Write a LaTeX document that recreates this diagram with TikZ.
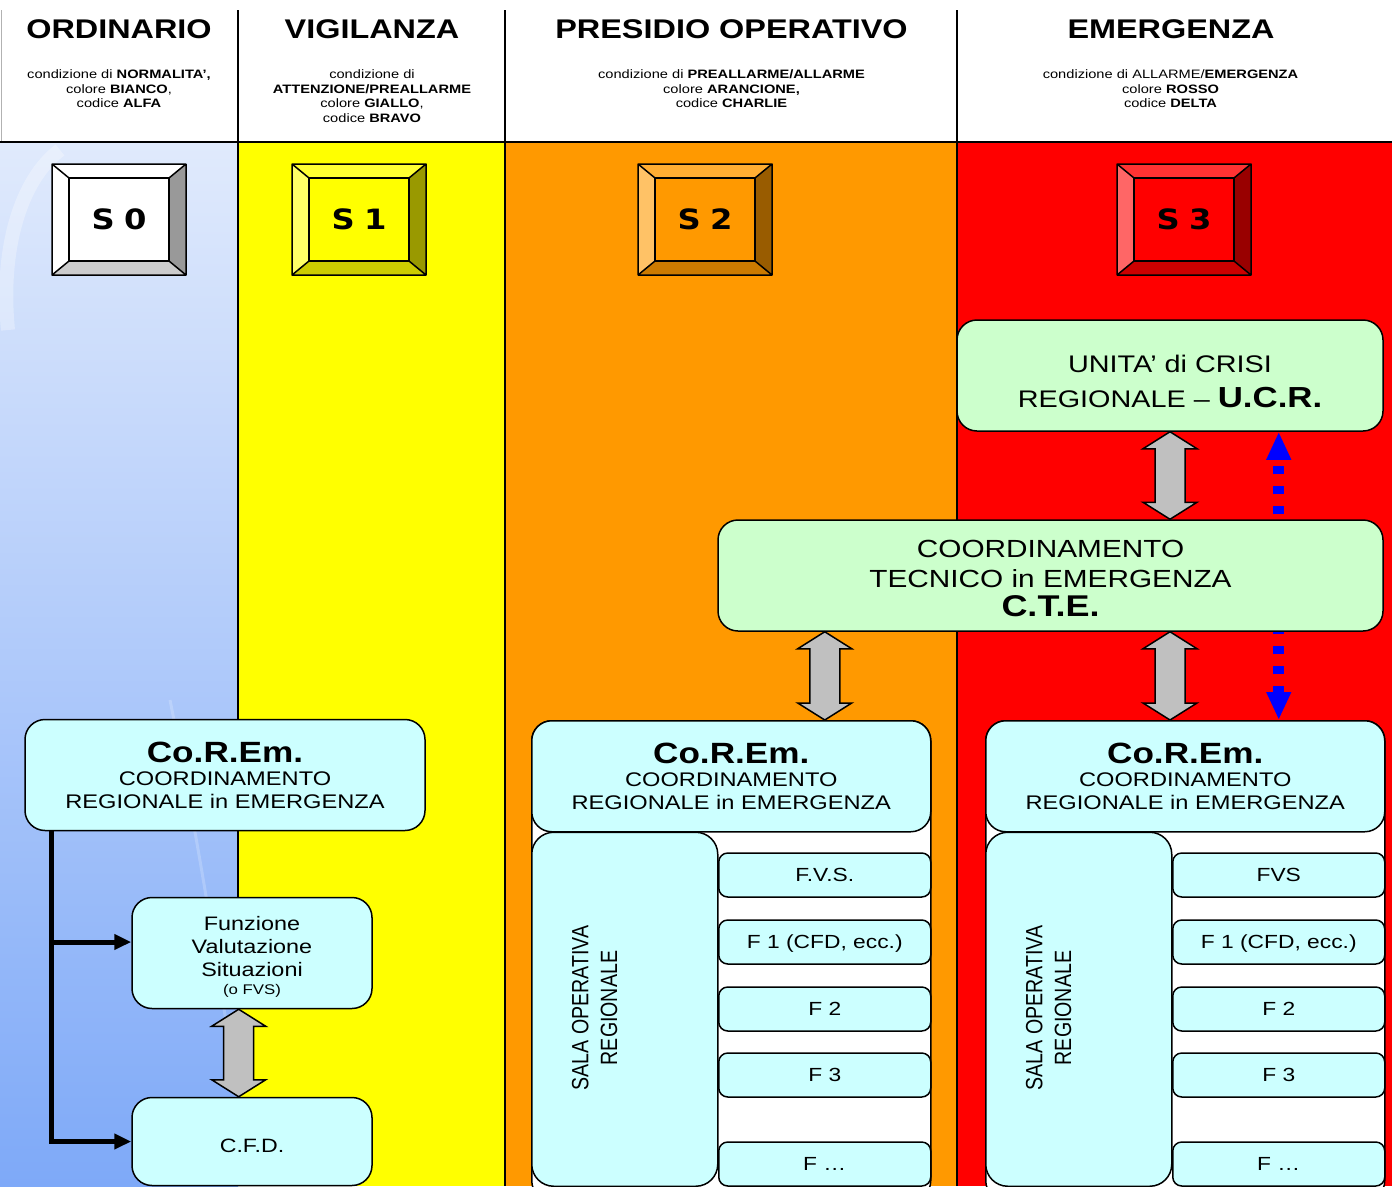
\documentclass[tikz,border=0pt]{standalone}
\usepackage{fontspec}
\usepackage{graphicx}
\setmainfont{Liberation Sans}[FakeStretch=1.2]
\newfontfamily\keyfont{DejaVu Sans}[FakeStretch=1.15]
\newfontfamily\plainsans{Liberation Sans}
\usetikzlibrary{arrows.meta,positioning,calc,backgrounds}
\definecolor{ordtop}{HTML}{E0EAFC}
\definecolor{ordbot}{HTML}{7EA9F8}
\definecolor{vigyellow}{HTML}{FFFF00}
\definecolor{preorange}{HTML}{FF9900}
\definecolor{emered}{HTML}{FF0000}
\definecolor{boxcyan}{HTML}{CCFFFF}
\definecolor{boxgreen}{HTML}{CCFFCC}
\definecolor{arrowgray}{HTML}{C0C0C0}
\definecolor{dashblue}{HTML}{0000FF}
% bevel colours of the level keys
\definecolor{kzright}{HTML}{999999}
\definecolor{kzbot}{HTML}{CCCCCC}
\definecolor{kytop}{HTML}{FFFF33}
\definecolor{kyleft}{HTML}{FFFF66}
\definecolor{kyright}{HTML}{999900}
\definecolor{kybot}{HTML}{CCCC00}
\definecolor{kotop}{HTML}{FFAD33}
\definecolor{koleft}{HTML}{FFC266}
\definecolor{koright}{HTML}{995C00}
\definecolor{kobot}{HTML}{CC7A00}
\definecolor{krtop}{HTML}{FF3333}
\definecolor{krleft}{HTML}{FF6666}
\definecolor{krright}{HTML}{990000}
\definecolor{krbot}{HTML}{CC0000}

\newcommand{\fs}[2]{\fontsize{#1}{#2}\selectfont}
% bevelled level key: name, left x, label, top, left, right, bottom, face
\newcommand{\levelkey}[8]{%
  \begin{scope}[shift={(#2,164)}]
    \fill[#4] (0,0) -- (134,0) -- (117,14) -- (17,14) -- cycle;
    \fill[#5] (0,0) -- (17,14) -- (17,97) -- (0,111) -- cycle;
    \fill[#6] (134,0) -- (134,111) -- (117,97) -- (117,14) -- cycle;
    \fill[#7] (0,111) -- (17,97) -- (117,97) -- (134,111) -- cycle;
    \node[keyface, fill=#8] (#1) at (67,55.5) {#3};
    \draw[keyline] (0,0) rectangle (134,111) (0,0) -- (17,14) (134,0) -- (117,14)
      (0,111) -- (17,97) (134,111) -- (117,97);
  \end{scope}}
% grey two-headed block arrow, #1 upper end, #2 lower end
\newcommand{\fatarrow}[2]{%
  \draw[blockarrow] let \p1=(#1), \p2=(#2) in
    (\x1,\y1) -- (\x1-27pt,\y1-17pt) -- (\x1-15pt,\y1-17pt)
    -- (\x2-15pt,\y2+17pt) -- (\x2-27pt,\y2+17pt) -- (\x2,\y2)
    -- (\x2+27pt,\y2+17pt) -- (\x2+15pt,\y2+17pt)
    -- (\x1+15pt,\y1-17pt) -- (\x1+27pt,\y1-17pt) -- cycle;}
\newcommand{\coremtext}{{\fs{29.3}{29.3}\bfseries Co.R.Em.}\\COORDINAMENTO\\REGIONALE in EMERGENZA}

\begin{document}
\begin{tikzpicture}[x=1pt,y=-1pt,
  title/.style={font=\fs{27}{27}\bfseries},
  subtitle/.style={font=\fs{12.2}{14.5},align=center},
  divider/.style={line width=2.5pt},
  keyline/.style={line width=1.5pt,line join=round},
  keyface/.style={draw,line width=1.5pt,minimum width=100pt,minimum height=83pt,inner sep=0pt,
    text width=100pt,align=center,font=\keyfont\bfseries\fs{28}{28}},
  panel/.style={draw,line width=1.5pt,rounded corners=20pt,inner sep=0pt,align=center},
  cyanbox/.style={panel,fill=boxcyan},
  greenbox/.style={panel,fill=boxgreen},
  corem/.style={cyanbox,minimum width=399pt,minimum height=111pt,font=\fs{19.7}{23}},
  frame/.style={draw,line width=1.5pt,rounded corners=20pt,fill=white,minimum width=399pt,minimum height=480pt},
  salabox/.style={panel,fill=boxcyan,rounded corners=22pt,minimum width=186pt,minimum height=354pt},
  salatext/.style={rotate=90,inner sep=0pt,font=\plainsans\fs{19.6}{24}},
  funbox/.style={draw,line width=1.5pt,rounded corners=9pt,fill=boxcyan,minimum width=212pt,
    minimum height=44pt,inner sep=0pt,text height=13.6pt,text depth=0pt,font=\fs{19}{19}},
  blockarrow/.style={draw=black,line width=1.5pt,fill=arrowgray,line join=miter},
  feed/.style={line width=5pt,-{Triangle[length=17pt,width=15pt]}},
  linkdash/.style={dashblue,line width=11pt,dash pattern=on 8pt off 12pt,
    {Triangle[length=28pt,width=23pt]}-{Triangle[length=28pt,width=23pt]}}]
  \useasboundingbox (0,0) rectangle (1392,1186);
  \clip (0,0) rectangle (1392,1186);

  % columns
  \begin{scope}[on background layer]
    \fill[white] (0,0) rectangle (1392,143);
    \fill[top color=ordtop,bottom color=ordbot] (0,143) rectangle (238,1186);
    \draw[white,opacity=0.3,line width=14pt] (8,330) .. controls (0,250) and (20,180) .. (60,150);
    \draw[white,opacity=0.2,line width=3pt] (170,700) .. controls (200,850) and (215,950) .. (235,1080);
    \fill[vigyellow] (238,143) rectangle (505,1186);
    \fill[preorange] (505,143) rectangle (957,1186);
    \fill[emered] (957,143) rectangle (1392,1186);
    \draw[gray!60,line width=1pt] (1,10) -- (1,142);
    \foreach \x in {238,505,957}
      \draw[divider] (\x,10) -- (\x,1186);
    \draw[divider] (0,142) -- (1392,142);
  \end{scope}

  % headings
  \node[title] (ordinario) at (119,29) {ORDINARIO};
  \node[title] (vigilanza) at (372,29) {VIGILANZA};
  \node[title] (presidio) at (731.5,29) {PRESIDIO OPERATIVO};
  \node[title] (emergenza) at (1171,29) {EMERGENZA};
  \node[subtitle] (ordsub) at (119,89) {condizione di \textbf{NORMALITA’,}\\colore \textbf{BIANCO},\\codice \textbf{ALFA}};
  \node[subtitle] (vigsub) at (372,96) {condizione di\\\textbf{ATTENZIONE/PREALLARME}\\colore \textbf{GIALLO},\\codice \textbf{BRAVO}};
  \node[subtitle] (presub) at (731.5,89) {condizione di \textbf{PREALLARME/ALLARME}\\colore \textbf{ARANCIONE,}\\codice \textbf{CHARLIE}};
  \node[subtitle] (emesub) at (1170.5,89) {condizione di ALLARME/\textbf{EMERGENZA}\\colore \textbf{ROSSO}\\codice \textbf{DELTA}};

  % level keys
  \levelkey{s0}{52}{S 0\hspace{6pt}}{white}{white}{kzright}{kzbot}{white}
  \levelkey{s1}{292}{S 1\hspace{4pt}}{kytop}{kyleft}{kyright}{kybot}{vigyellow}
  \levelkey{s2}{638}{S 2\hspace{4pt}}{kotop}{koleft}{koright}{kobot}{preorange}
  \levelkey{s3}{1117}{S 3\hspace{3pt}}{krtop}{krleft}{krright}{krbot}{emered}

  % ordinary structure
  \node[corem,minimum width=400pt] (corem1) at (225,775) {\coremtext};
  \node[cyanbox,minimum width=240pt,minimum height=111pt,font=\fs{19.5}{23}] (fvs) at (252,953)
    {\rule{0pt}{22pt}Funzione\\Valutazione\\Situazioni\\[-5pt]{\fs{14}{14}(o FVS)}};
  \node[cyanbox,minimum width=240pt,minimum height=88pt,font=\fs{19.3}{19.3}] (cfd) at (252,1141.5)
    {\rule{0pt}{22pt}C.F.D.};
  \coordinate (trunk) at ([xshift=27pt]corem1.south west);
  \coordinate (fvsin) at ([yshift=11pt]fvs.west);
  \draw[feed] (trunk) |- (cfd.west);
  \draw[feed] (trunk |- fvsin) -- (fvsin);
  \fatarrow{fvs.south -| 238.7,0}{cfd.north -| 238.7,0}

  % emergency structure
  \node[greenbox,minimum width=426pt,minimum height=111pt,font=\fs{24}{35}] (ucr) at (1170,375.5)
    {\rule{0pt}{29.5pt}UNITA’ di CRISI\\REGIONALE – {\fs{29}{29}\bfseries U.C.R.}};
  \node[greenbox,minimum width=665pt,minimum height=111pt,font=\fs{24.8}{29.5}] (cte) at (1050.5,575.5)
    {\rule{0pt}{24pt}COORDINAMENTO\\TECNICO in EMERGENZA\\{\fs{30}{30}\bfseries C.T.E.}};
  \foreach \blk/\bx/\fvs in {2/531/F.V.S., 3/985/FVS}{
    \node[frame,anchor=north west] (frame\blk) at (\bx,720) {};
    \node[corem,anchor=north west] (corem\blk) at (\bx,720) {\coremtext};
    \node[salabox,anchor=north west] (sala\blk) at (\bx,831.5) {};
    \node[salatext] (salatxt\blk) at (\bx+66,1008)
      {\scalebox{1}[1.2]{\begin{tabular}{@{}c@{}}SALA OPERATIVA\\REGIONALE\end{tabular}}};
    \foreach \fy/\lbl [count=\r] in {875/\fvs, 942/{F 1 (CFD, ecc.)}, 1009/F 2, 1075/F 3, 1164/F …}
      \node[funbox,anchor=west] (fun\blk-\r) at (\bx+187,\fy) {\lbl};
  }
  \fatarrow{ucr.south}{ucr.south |- cte.north}
  \fatarrow{cte.south -| ucr.south}{corem3.north -| ucr.south}
  \fatarrow{cte.south -| fun2-1.center}{corem2.north -| fun2-1.center}
  \begin{scope}[on background layer]
    \draw[linkdash] (corem3.north -| fun3-1.center) -- (ucr.south -| fun3-1.center);
  \end{scope}
\end{tikzpicture}
\end{document}
